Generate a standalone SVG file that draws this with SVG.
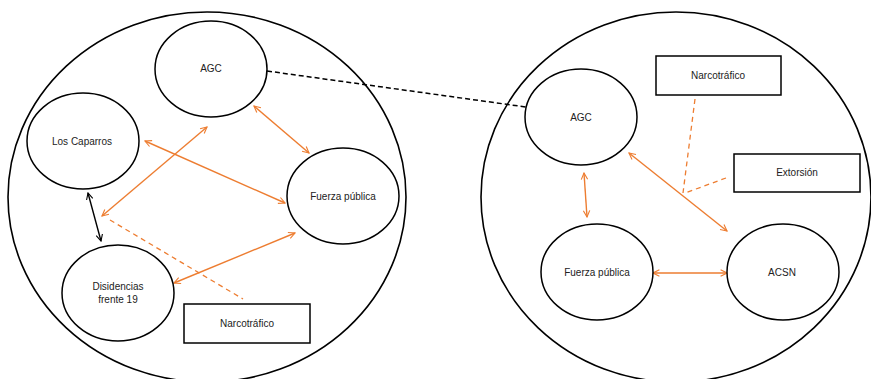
<svg xmlns="http://www.w3.org/2000/svg" width="871" height="379" viewBox="0 0 871 379">
<style>
.big{fill:none;stroke:#000;stroke-width:1.6}
.node{fill:#fff;stroke:#000;stroke-width:1.5}
.box{fill:#fff;stroke:#000;stroke-width:1.5}
.t{font-family:"Liberation Sans",Arial,sans-serif;font-size:10px;fill:#222;text-anchor:middle}
.o{stroke:#ED7D31;stroke-width:1.4;fill:none;marker-start:url(#ao);marker-end:url(#ao)}
.k{stroke:#000;stroke-width:1.4;fill:none;marker-start:url(#ak);marker-end:url(#ak)}
.od{stroke:#ED7D31;stroke-width:1.3;fill:none;stroke-dasharray:5 4}
.kd{stroke:#000;stroke-width:1.5;fill:none;stroke-dasharray:5 3}
</style>
<defs>
<marker id="ao" viewBox="0 0 10 10" refX="9" refY="5" markerWidth="8" markerHeight="8" markerUnits="userSpaceOnUse" orient="auto-start-reverse"><path d="M1,1 L9,5 L1,9" fill="none" stroke="#ED7D31" stroke-width="1.4"/></marker>
<marker id="ak" viewBox="0 0 10 10" refX="9" refY="5" markerWidth="8" markerHeight="8" markerUnits="userSpaceOnUse" orient="auto-start-reverse"><path d="M1,1 L9,5 L1,9" fill="none" stroke="#000" stroke-width="1.4"/></marker>
</defs>
<g id="clusters">
<ellipse class="big" cx="207" cy="197" rx="199" ry="185"/>
<ellipse class="big" cx="676" cy="197" rx="195" ry="185"/>
</g>
<g id="connectors">
<line class="kd" x1="267" y1="71" x2="526" y2="107"/>
<line class="o" x1="254" y1="106" x2="309" y2="153"/>
<line class="o" x1="145" y1="141" x2="285" y2="203"/>
<line class="o" x1="207" y1="127" x2="102" y2="216"/>
<line class="k" x1="88" y1="193" x2="101" y2="241"/>
<line class="o" x1="174" y1="283" x2="295" y2="233"/>
<line class="od" x1="110" y1="220" x2="243" y2="299"/>
<line class="o" x1="584" y1="173" x2="587" y2="217"/>
<line class="o" x1="629" y1="153" x2="727" y2="231"/>
<line class="o" x1="653" y1="273" x2="727" y2="273"/>
<line class="od" x1="695" y1="99" x2="683" y2="193"/>
<line class="od" x1="726" y1="178" x2="685" y2="193"/>
</g>
<g id="agc-left"><ellipse class="node" cx="211" cy="69" rx="56" ry="48"/><text class="t" x="211" y="72">AGC</text></g>
<g id="los-caparros"><ellipse class="node" cx="83" cy="141" rx="56" ry="48"/><text class="t" x="82" y="145">Los Caparros</text></g>
<g id="fuerza-left"><ellipse class="node" cx="343" cy="196" rx="56" ry="48"/><text class="t" x="343" y="200">Fuerza pública</text></g>
<g id="disidencias"><ellipse class="node" cx="118" cy="293" rx="56" ry="48"/><text class="t" x="118" y="290">Disidencias</text><text class="t" x="118" y="303">frente 19</text></g>
<g id="narco-left"><rect class="box" x="184" y="304" width="126" height="39"/><text class="t" x="247" y="327">Narcotráfico</text></g>
<g id="agc-right"><ellipse class="node" cx="581" cy="117" rx="56" ry="48"/><text class="t" x="581" y="121">AGC</text></g>
<g id="fuerza-right"><ellipse class="node" cx="597" cy="272" rx="56" ry="48"/><text class="t" x="597" y="276">Fuerza pública</text></g>
<g id="acsn"><ellipse class="node" cx="783" cy="272" rx="56" ry="48"/><text class="t" x="782" y="276">ACSN</text></g>
<g id="narco-right"><rect class="box" x="656" y="56" width="125" height="39"/><text class="t" x="718" y="79">Narcotráfico</text></g>
<g id="extorsion"><rect class="box" x="734" y="154" width="126" height="38"/><text class="t" x="797" y="176">Extorsión</text></g>
</svg>
